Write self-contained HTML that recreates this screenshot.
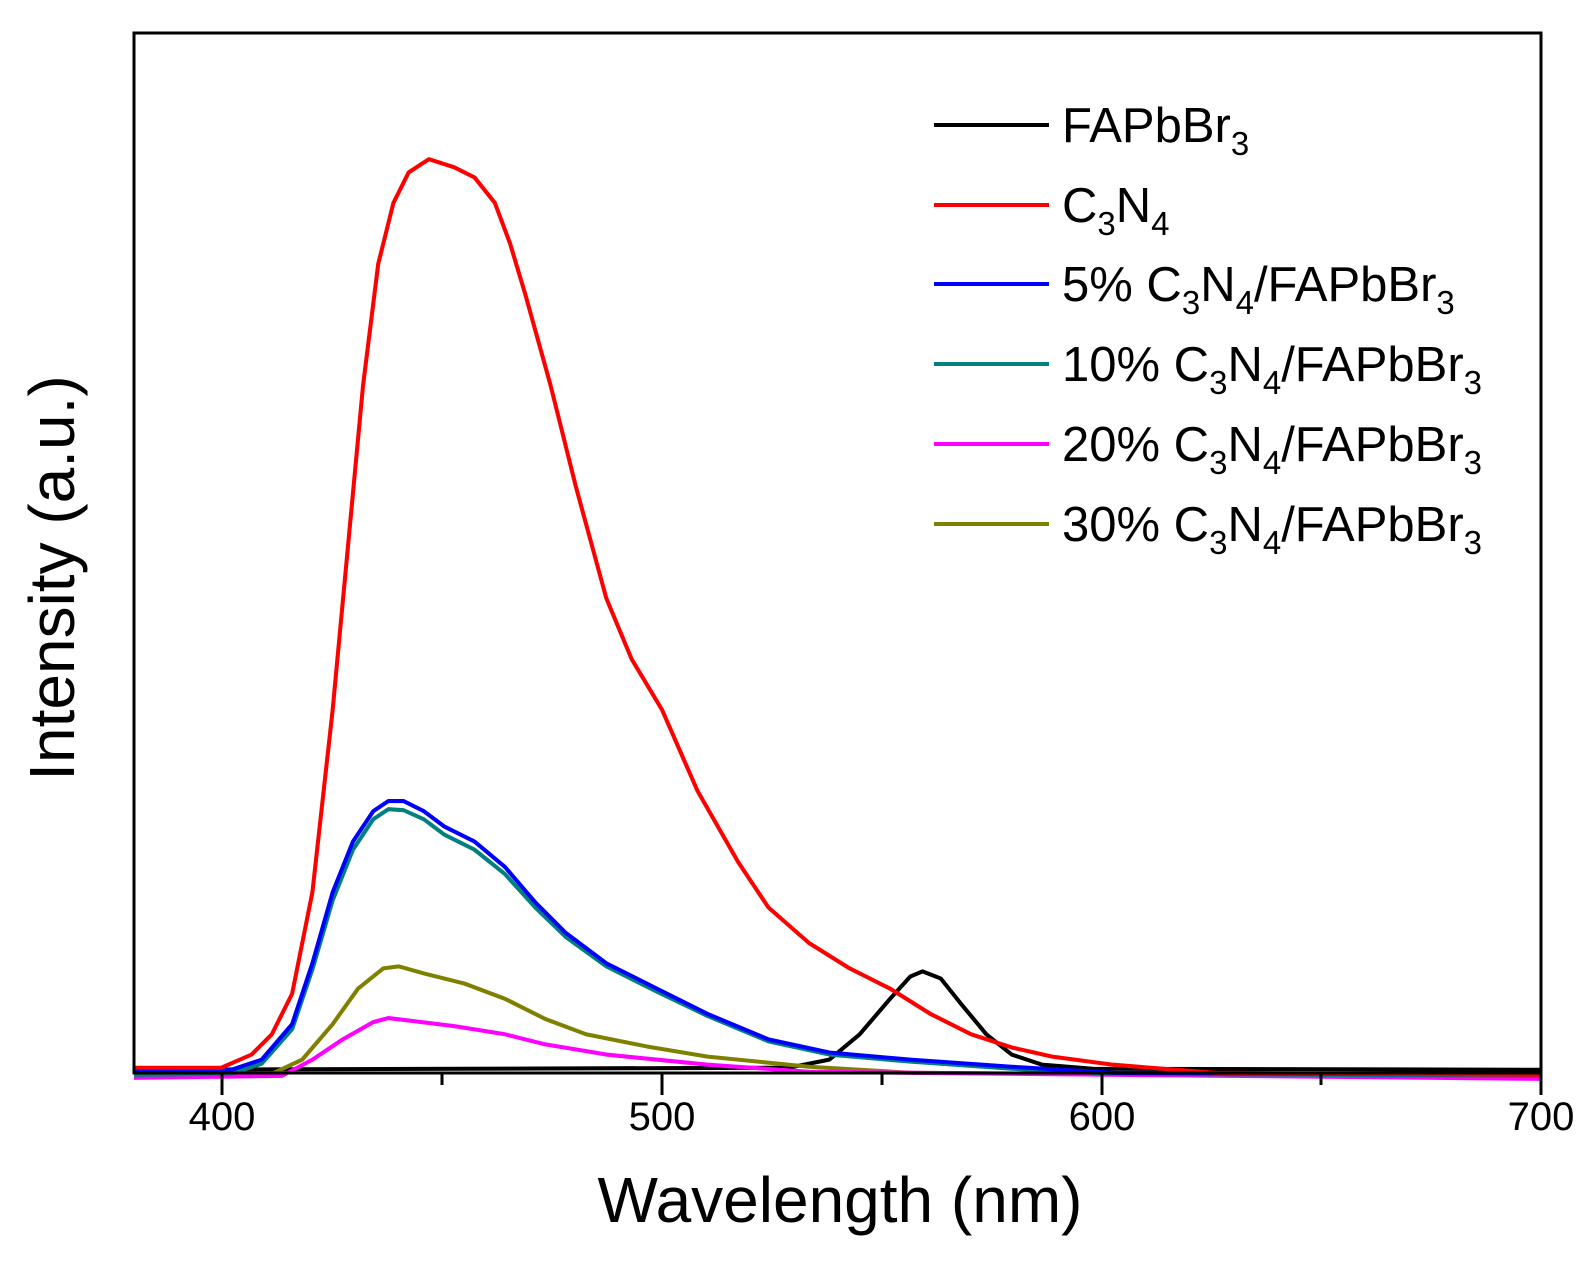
<!DOCTYPE html>
<html><head><style>body{margin:0;background:#fff}svg{display:block}</style></head><body>
<svg width="1588" height="1269" viewBox="0 0 1588 1269" xmlns="http://www.w3.org/2000/svg" font-family="Liberation Sans, Arial, sans-serif">
<rect width="1588" height="1269" fill="#fff"/>
<g fill="none" stroke-width="4" stroke-linejoin="round" transform="matrix(1.0135,0,0,1.014,-1.8,0)">
<polyline stroke="#000" points="134,1055 780,1053 820,1045 850,1020 880,985 900,963 912,958 930,965 950,990 975,1020 1000,1040 1030,1050 1080,1054 1522,1055"/>
<polyline stroke="#808000" points="134,1062 270,1059 300,1045 330,1010 355,975 380,955 395,953 420,960 460,970 500,985 540,1005 580,1020 640,1032 700,1042 800,1052 900,1058 1522,1062"/>
<polyline stroke="#ff00ff" points="134,1063 280,1061 310,1045 340,1025 370,1008 385,1004 410,1007 450,1012 500,1020 540,1030 600,1040 700,1050 800,1057 1522,1064"/>
<polyline stroke="#008080" points="134,1060 230,1059 260,1049 290,1015 310,956 330,888 350,838 370,808 385,798 400,799 420,808 440,823 470,838 500,862 530,895 560,924 600,953 650,978 700,1002 760,1027 820,1040 900,1047 1000,1054 1100,1059 1522,1061"/>
<polyline stroke="#0000ff" points="134,1056 230,1055 260,1045 290,1010 310,950 330,880 350,830 370,800 385,790 400,790 420,800 440,815 470,830 500,855 530,890 560,920 600,950 650,975 700,1000 760,1025 820,1038 900,1045 1000,1052 1100,1058 1522,1060"/>
<polyline stroke="#ff0000" points="134,1053 220,1053 250,1040 270,1020 290,980 310,880 330,700 345,540 360,380 375,260 390,200 405,170 425,157 450,165 470,175 490,200 505,240 520,290 545,380 570,480 600,590 625,650 655,700 690,780 730,850 760,895 800,930 840,955 880,975 920,1000 960,1020 1000,1033 1040,1042 1100,1050 1200,1058 1522,1060"/>
</g>
<rect x="134" y="33" width="1407" height="1040" fill="none" stroke="#000" stroke-width="3"/>
<g stroke="#000" stroke-width="3">
<line x1="222" y1="1073" x2="222" y2="1095"/><line x1="442" y1="1073" x2="442" y2="1085"/>
<line x1="662" y1="1073" x2="662" y2="1095"/><line x1="882" y1="1073" x2="882" y2="1085"/>
<line x1="1102" y1="1073" x2="1102" y2="1095"/><line x1="1321" y1="1073" x2="1321" y2="1085"/>
<line x1="1541" y1="1073" x2="1541" y2="1095"/>
</g>
<g font-size="40" text-anchor="middle" fill="#000">
<text x="222" y="1130">400</text><text x="662" y="1130">500</text><text x="1102" y="1130">600</text><text x="1541" y="1130">700</text>
</g>
<text x="840" y="1222" font-size="64" text-anchor="middle">Wavelength (nm)</text>
<text transform="translate(74,578) rotate(-90)" font-size="64" text-anchor="middle">Intensity (a.u.)</text>
<g stroke-width="4">
<line x1="934" y1="125" x2="1049" y2="125" stroke="#000"/>
<line x1="934" y1="205" x2="1049" y2="205" stroke="#f00"/>
<line x1="934" y1="284" x2="1049" y2="284" stroke="#00f"/>
<line x1="934" y1="364" x2="1049" y2="364" stroke="#008080"/>
<line x1="934" y1="444" x2="1049" y2="444" stroke="#f0f"/>
<line x1="934" y1="524" x2="1049" y2="524" stroke="#808000"/>
</g>
<g font-size="49" fill="#000">
<text x="1062" y="142">FAPbBr<tspan font-size="33" dy="13">3</tspan></text>
<text x="1062" y="222">C<tspan font-size="33" dy="13">3</tspan><tspan dy="-13">N</tspan><tspan font-size="33" dy="13">4</tspan></text>
<text x="1062" y="301">5% C<tspan font-size="33" dy="13">3</tspan><tspan dy="-13">N</tspan><tspan font-size="33" dy="13">4</tspan><tspan dy="-13">/FAPbBr</tspan><tspan font-size="33" dy="13">3</tspan></text>
<text x="1062" y="381">10% C<tspan font-size="33" dy="13">3</tspan><tspan dy="-13">N</tspan><tspan font-size="33" dy="13">4</tspan><tspan dy="-13">/FAPbBr</tspan><tspan font-size="33" dy="13">3</tspan></text>
<text x="1062" y="461">20% C<tspan font-size="33" dy="13">3</tspan><tspan dy="-13">N</tspan><tspan font-size="33" dy="13">4</tspan><tspan dy="-13">/FAPbBr</tspan><tspan font-size="33" dy="13">3</tspan></text>
<text x="1062" y="541">30% C<tspan font-size="33" dy="13">3</tspan><tspan dy="-13">N</tspan><tspan font-size="33" dy="13">4</tspan><tspan dy="-13">/FAPbBr</tspan><tspan font-size="33" dy="13">3</tspan></text>
</g>
</svg>
</body></html>
